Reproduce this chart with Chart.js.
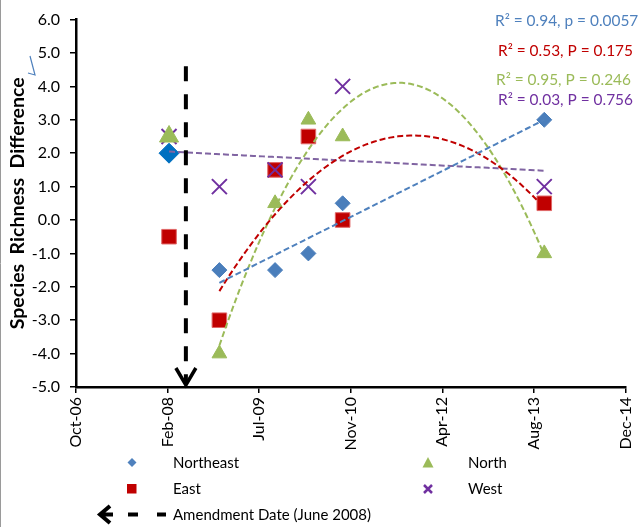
<!DOCTYPE html>
<html>
<head>
<meta charset="utf-8">
<script src="https://cdn.jsdelivr.net/npm/chart.js@4.4.1/dist/chart.umd.min.js"></script>
<style>
  body { margin: 0; background: #fff; }
  canvas { display: block; }
</style>
</head>
<body>
<canvas id="richnessChart" width="638" height="527"></canvas>
<script>
// sampling dates and the richness difference per region
var sampleDates = ["2008-03-01", "2008-12-01", "2009-10-01", "2010-04-01", "2010-10-05", "2013-10-10"];
var northeast = [2.0, -1.5, -1.5, -1.0, 0.5, 3.0];
var east = [-0.5, -3.0, 1.5, 2.5, 0.0, 0.5];
var north = [2.5, -4.0, 0.5, 3.0, 2.5, -1.0];
var west = [2.5, 1.0, 1.5, 1.0, 4.0, 1.0];

var xTickLabels = ["Oct-06", "Feb-08", "Jul-09", "Nov-10", "Apr-12", "Aug-13", "Dec-14"];
var amendmentDate = "2008-06-01";
var fitStats = ["R\u00B2 = 0.94, p = 0.0057", "R\u00B2 = 0.53, P = 0.175", "R\u00B2 = 0.95, P = 0.246", "R\u00B2 = 0.03, P = 0.756"];

var X_MIN = 39000, X_MAX = 42000, X_STEP = 500; // excel day numbers

function toSerial(s) {
    var p = s.split("-").map(Number);
    return (Date.UTC(p[0], p[1] - 1, p[2]) - Date.UTC(1899, 11, 30)) / 864e5;
}
var xs = sampleDates.map(toSerial);

function points(vals) {
    return xs.map(function(x, i) { return {x: x, y: vals[i]}; });
}

// least squares polynomial, like the excel trendline
function polyfit(px, py, deg) {
    var n = deg + 1, A = [], b = [];
    var u = px.map(function(x) { return (x - 40000) / 1000; });
    for (var i = 0; i < n; i++) {
        A.push([]);
        b.push(0);
        for (var j = 0; j < n; j++) {
            var s = 0;
            for (var k = 0; k < u.length; k++) s += Math.pow(u[k], i + j);
            A[i].push(s);
        }
        for (var k2 = 0; k2 < u.length; k2++) b[i] += py[k2] * Math.pow(u[k2], i);
    }
    for (var c = 0; c < n; c++) {
        for (var r = c + 1; r < n; r++) {
            var f = A[r][c] / A[c][c];
            for (var cc = c; cc < n; cc++) A[r][cc] -= f * A[c][cc];
            b[r] -= f * b[c];
        }
    }
    var coef = new Array(n).fill(0);
    for (var r2 = n - 1; r2 >= 0; r2--) {
        var s2 = b[r2];
        for (var c2 = r2 + 1; c2 < n; c2++) s2 -= A[r2][c2] * coef[c2];
        coef[r2] = s2 / A[r2][r2];
    }
    return function(x) {
        var t = (x - 40000) / 1000, y = 0;
        for (var q = 0; q < n; q++) y += coef[q] * Math.pow(t, q);
        return y;
    };
}

function trend(vals, from, deg) {
    var px = xs.slice(from), py = vals.slice(from);
    var fn = polyfit(px, py, deg);
    var a = px[0], z = px[px.length - 1], out = [];
    for (var i = 0; i <= 80; i++) {
        var x = a + (z - a) * i / 80;
        out.push({x: x, y: fn(x)});
    }
    return out;
}

function trendSet(data, color) {
    return {
        type: "line", data: data, showLine: true, borderColor: color, borderWidth: 2,
        borderDash: [6, 3], pointRadius: 0, fill: false, tension: 0
    };
}

// pick a font size so the text spans the wanted width
function fitFont(ctx, text, weight, width) {
    ctx.font = weight + " 20px Lato";
    var size = 20 * width / ctx.measureText(text).width;
    ctx.font = weight + " " + size.toFixed(2) + "px Lato";
}

var annotations = {
    id: "annotations",
    afterDatasetsDraw: function(chart) {
        var ctx = chart.ctx, sx = chart.scales.x, sy = chart.scales.y;
        var ax = sx.getPixelForValue(toSerial(amendmentDate));
        ctx.save();
        ctx.strokeStyle = "#000";
        ctx.lineWidth = 4;
        ctx.setLineDash([15, 13]);
        ctx.beginPath();
        ctx.moveTo(ax, sy.getPixelForValue(4.6));
        ctx.lineTo(ax, chart.chartArea.bottom - 4);
        ctx.stroke();
        ctx.setLineDash([]);
        ctx.lineWidth = 3.5;
        ctx.beginPath();
        ctx.moveTo(ax - 10, chart.chartArea.bottom - 19);
        ctx.lineTo(ax, chart.chartArea.bottom - 2);
        ctx.lineTo(ax + 10, chart.chartArea.bottom - 19);
        ctx.stroke();
        ctx.restore();
    },
    afterDraw: function(chart) {
        var ctx = chart.ctx, area = chart.chartArea;
        ctx.save();
        // left frame line
        ctx.strokeStyle = "#9a9a9a";
        ctx.lineWidth = 1;
        ctx.beginPath();
        ctx.moveTo(0.5, 0);
        ctx.lineTo(0.5, 527);
        ctx.stroke();
        // stray mark next to axis title
        ctx.strokeStyle = "#4F81BD";
        ctx.lineWidth = 1.2;
        ctx.beginPath();
        ctx.moveTo(30, 56);
        ctx.lineTo(35, 75);
        ctx.lineTo(28, 73);
        ctx.stroke();

        // y axis title
        ctx.save();
        ctx.translate(18, (area.top + area.bottom) / 2);
        ctx.rotate(-Math.PI / 2);
        fitFont(ctx, "Species  Richness  Difference", "bold", 252);
        ctx.fillStyle = "#000";
        ctx.textAlign = "center";
        ctx.textBaseline = "middle";
        ctx.fillText("Species  Richness  Difference", 0, 0);
        ctx.restore();

        // fit statistics
        fitFont(ctx, fitStats[1], "normal", 135);
        ctx.textBaseline = "middle";
        ctx.textAlign = "left";
        var statColors = ["#4F81BD", "#C00000", "#9BBB59", "#7030A0"];
        var statPos = [[495, 21], [498, 51], [496, 80], [498, 100]];
        fitStats.forEach(function(t, i) {
            ctx.fillStyle = statColors[i];
            ctx.fillText(t, statPos[i][0], statPos[i][1]);
        });

        // legend
        ctx.font = "15px Lato";
        ctx.fillStyle = "#000";
        ctx.fillText("Northeast", 173, 463);
        ctx.fillText("East", 173, 489);
        ctx.fillText("North", 468, 463);
        ctx.fillText("West", 468, 489);
        ctx.fillText("Amendment Date (June 2008)", 173, 515);

        ctx.fillStyle = "#4F81BD";
        ctx.beginPath();
        ctx.moveTo(132, 458); ctx.lineTo(136.5, 462.5); ctx.lineTo(132, 467); ctx.lineTo(127.5, 462.5);
        ctx.closePath(); ctx.fill();
        ctx.fillStyle = "#C00000";
        ctx.fillRect(127, 484, 9.5, 9.5);
        ctx.fillStyle = "#9BBB59";
        ctx.beginPath();
        ctx.moveTo(428, 457); ctx.lineTo(433.5, 467.5); ctx.lineTo(422.5, 467.5);
        ctx.closePath(); ctx.fill();
        ctx.strokeStyle = "#7030A0";
        ctx.lineWidth = 2.5;
        ctx.beginPath();
        ctx.moveTo(424, 485); ctx.lineTo(432, 493);
        ctx.moveTo(432, 485); ctx.lineTo(424, 493);
        ctx.stroke();

        ctx.strokeStyle = "#000";
        ctx.lineWidth = 4;
        ctx.beginPath();
        ctx.moveTo(110, 506); ctx.lineTo(100, 514.5); ctx.lineTo(110, 523);
        ctx.moveTo(100, 514.5); ctx.lineTo(113, 514.5);
        ctx.moveTo(128, 514.5); ctx.lineTo(138, 514.5);
        ctx.moveTo(157, 514.5); ctx.lineTo(166, 514.5);
        ctx.stroke();
        ctx.restore();
    }
};

var axisFont = {family: "Lato", size: 16};

new Chart("richnessChart", {
    type: "scatter",
    data: {
        datasets: [
            trendSet(trend(northeast, 1, 1), "#4F81BD"),
            trendSet(trend(east, 1, 2), "#C00000"),
            trendSet(trend(north, 1, 2), "#9BBB59"),
            trendSet(trend(west, 0, 1), "#8064A2"),
            {
                label: "Northeast", data: points(northeast), pointStyle: "rectRot",
                pointRadius: function(c) { return c.dataIndex === 0 ? 10 : 7.5; },
                backgroundColor: function(c) { return c.dataIndex === 0 ? "#0070C0" : "#4A7EBB"; },
                borderColor: function(c) { return c.dataIndex === 0 ? "#0070C0" : "#4A7EBB"; },
                borderWidth: 1
            },
            {
                label: "North", data: points(north), pointStyle: "triangle",
                pointRadius: function(c) { return c.dataIndex === 0 ? 11 : 8.5; },
                backgroundColor: "#9BBB59", borderColor: "#9BBB59", borderWidth: 1
            },
            {
                label: "West", data: points(west), pointStyle: "crossRot", pointRadius: 10.6,
                backgroundColor: "#7030A0", borderColor: "#7030A0", borderWidth: 2
            },
            {
                label: "East", data: points(east), pointStyle: "rect", pointRadius: 10.3,
                backgroundColor: "#C00000", borderColor: "#E06666", borderWidth: 1
            }
        ]
    },
    options: {
        responsive: false,
        animation: false,
        devicePixelRatio: 1,
        layout: {padding: {top: 15, right: 7, bottom: 77, left: 0}},
        plugins: {legend: {display: false}, tooltip: {enabled: false}},
        scales: {
            x: {
                type: "linear", min: X_MIN, max: X_MAX,
                border: {display: true, color: "#000", width: 2.5},
                grid: {drawOnChartArea: false, drawTicks: true, tickLength: 6, color: "#000", lineWidth: 1.5},
                ticks: {
                    stepSize: X_STEP, autoSkip: false, minRotation: 90, maxRotation: 90,
                    color: "#000", font: axisFont, padding: 4,
                    callback: function(v) { return xTickLabels[Math.round((v - X_MIN) / X_STEP)]; }
                },
                afterFit: function(s) { s.height = 63; s.paddingLeft = 0; s.paddingRight = 0; }
            },
            y: {
                min: -5, max: 6,
                border: {display: true, color: "#000", width: 2.5},
                grid: {drawOnChartArea: false, drawTicks: true, tickLength: 6, color: "#000", lineWidth: 1.5},
                ticks: {
                    stepSize: 1, color: "#000", font: axisFont, padding: 10,
                    callback: function(v) { return v.toFixed(1); }
                },
                afterFit: function(s) { s.width = 76; }
            }
        }
    },
    plugins: [annotations]
});
</script>
</body>
</html>
